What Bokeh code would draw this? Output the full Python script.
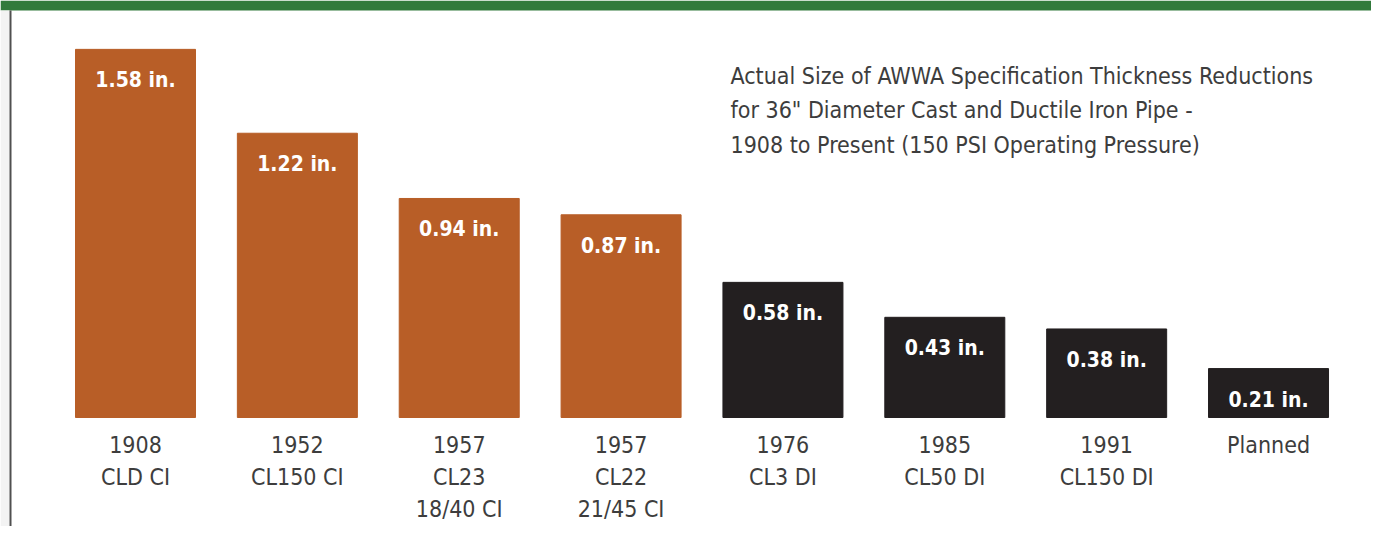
from bokeh.plotting import figure
from bokeh.models import Range1d, ColumnDataSource, BoxAnnotation
from bokeh.core.properties import value
from bokeh.embed import file_html
from bokeh.resources import INLINE

# ---- data ----
categories = ["1908\nCLD CI", "1952\nCL150 CI", "1957\nCL23\n18/40 CI", "1957\nCL22\n21/45 CI",
              "1976\nCL3 DI", "1985\nCL50 DI", "1991\nCL150 DI", "Planned"]
thickness = [1.58, 1.22, 0.94, 0.87, 0.58, 0.43, 0.38, 0.21]
material = ["CI", "CI", "CI", "CI", "DI", "DI", "DI", "DI"]
title_lines = ["Actual Size of AWWA Specification Thickness Reductions",
               "for 36\" Diameter Cast and Ductile Iron Pipe -",
               "1908 to Present (150 PSI Operating Pressure)"]

colors = {"CI": "#B85E27", "DI": "#231F20"}
FONT = "'DejaVu Sans Condensed', 'Roboto', sans-serif"

W, H = 1371, 526
ppx = 161.86   # pixels per category
ppy = 233.0    # pixels per inch
x0 = -135 / ppx
y1 = 417 / ppy
xs = x0 + W / ppx
ys = y1 - H / ppy

def dx(px):
    return x0 + px / ppx

def dy(py):
    return y1 - py / ppy

p = figure(width=W, height=H, output_backend="svg", toolbar_location=None,
           x_range=Range1d(x0, xs), y_range=Range1d(ys, y1),
           min_border=0, min_border_left=0, min_border_right=0,
           min_border_top=0, min_border_bottom=0)
p.axis.visible = False
p.grid.visible = False
p.outline_line_color = None
p.background_fill_color = "white"
p.border_fill_color = "white"

idx = list(range(len(categories)))
src = ColumnDataSource(dict(x=idx, top=thickness,
                            color=[colors[m] for m in material],
                            lab=["%.2f in." % v for v in thickness]))
p.vbar(x="x", top="top", bottom=0, width=120 / ppx, color="color", source=src)
p.text(x="x", y="top", text="lab", source=src, y_offset=31,
       text_align="center", text_baseline="middle", text_color="white",
       text_font=value(FONT), text_font_style="bold", text_font_size="21px")

# category labels, line by line
for i, c in enumerate(categories):
    for k, line in enumerate(c.split("\n")):
        p.text(x=[i], y=[0], text=[line], y_offset=27 + 32 * k,
               text_align="center", text_baseline="middle", text_color="#3d3d3d",
               text_font=value(FONT), text_font_size="23px")

# title
for k, line in enumerate(title_lines):
    p.text(x=[dx(730)], y=[dy(75 + 34.5 * k)], text=[line],
           text_align="left", text_baseline="middle", text_color="#3d3d3d",
           text_font=value(FONT), text_font_size="23px")

# decorations: green band on top, left border
p.add_layout(BoxAnnotation(top=y1, bottom=dy(10), fill_color="#327A3C", fill_alpha=1,
                           line_color=None))
p.add_layout(BoxAnnotation(left=x0, right=dx(9), bottom=ys, top=dy(10),
                           fill_color="#F3F3F3", fill_alpha=1, line_color=None))
p.add_layout(BoxAnnotation(left=dx(9), right=dx(11), bottom=ys, top=dy(10),
                           fill_color="#505050", fill_alpha=1, line_color=None))

open("out.html", "w").write(file_html(p, INLINE))
